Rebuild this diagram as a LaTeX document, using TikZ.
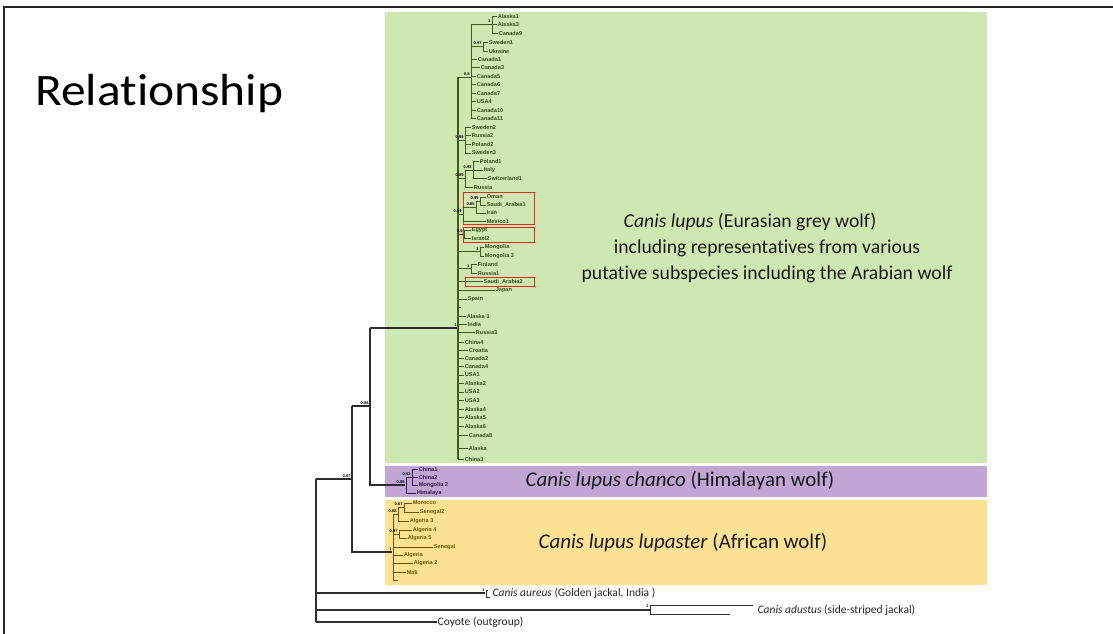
\documentclass[tikz,border=0pt]{standalone}
\usepackage{fontspec}
\setmainfont{Carlito}[Ligatures={NoCommon}]
\newfontfamily\leaffont{Liberation Sans}
\definecolor{gfill}{RGB}{207,232,178}
\definecolor{pfill}{RGB}{192,165,213}
\definecolor{yfill}{RGB}{254,226,147}
\definecolor{gline}{RGB}{62,92,30}
\definecolor{gtext}{RGB}{50,78,22}
\definecolor{pline}{RGB}{58,20,80}
\definecolor{yline}{RGB}{110,82,0}
\definecolor{redbox}{RGB}{228,40,40}
\definecolor{bbline}{RGB}{45,45,45}
\newcommand\lf[6]{\node[#1] (#2) at (#4,#5) {#6}; \draw[#1 line] (#3,#5) -- (#2.west);}
\tikzset{
  gl/.style={font=\leaffont\bfseries\fontsize{5.6}{6}\selectfont, text=gtext, anchor=west, inner sep=0.6pt},
  gl line/.style={draw=gline, line width=0.9pt},
  pl/.style={font=\leaffont\bfseries\fontsize{5.6}{6}\selectfont, text=pline, anchor=west, inner sep=0.6pt},
  pl line/.style={draw=pline, line width=0.9pt},
  yl/.style={font=\leaffont\bfseries\fontsize{5.6}{6}\selectfont, text=yline, anchor=west, inner sep=0.6pt},
  yl line/.style={draw=yline, line width=0.9pt},
  bb/.style={draw=bbline, line width=1.2pt},
  supp/.style={font=\leaffont\bfseries\fontsize{4}{4}\selectfont, anchor=south east, inner sep=0.3pt},
  bigtext/.style={font=\fontsize{19.7}{26}\selectfont, text=black!90, align=center},
  rbox/.style={draw=redbox, line width=0.8pt},
  jack/.style={font=\fontsize{11.5}{13}\selectfont, anchor=west, inner sep=0.5pt, text=black!85}
}
\begin{document}
\begin{tikzpicture}[x=1pt,y=-1pt]
\useasboundingbox (0,0) rectangle (1113,634);
\fill[white] (0,0) rectangle (1113,634);
% frame
\draw[line width=2pt, black!85] (4,634) -- (4,7) -- (1113,7);
% title
\node[font=\fontsize{45}{50}\selectfont, anchor=base west, inner sep=0pt] (title) at (35,105) {\scalebox{1.1}[1]{Relationship}};
% coloured panels
\fill[gfill] (385,12) rectangle (987,463);
\fill[pfill] (385,466) rectangle (987,497);
\fill[yfill] (385,500) rectangle (987,585);
% panel texts
\node[bigtext] (eurasian) at (767,248) {\textit{Canis lupus} (Eurasian grey wolf)\hspace*{34pt}\\including representatives from various\\putative subspecies including the Arabian wolf};
\node[bigtext, font=\fontsize{20.9}{22}\selectfont] (chanco) at (680,481) {\textit{Canis lupus chanco} (Himalayan wolf)};
\node[bigtext, font=\fontsize{20.9}{22}\selectfont] (lupaster) at (683,543) {\textit{Canis lupus lupaster} (African wolf)};
% red boxes
\draw[rbox] (463,192) rectangle (534,224);
\draw[rbox] (463,227) rectangle (534,242);
\draw[rbox] (465,277) rectangle (534,286);

% ---------- green clade ----------
\draw[gl line, line width=1.2pt] (458,77) -- (458,459);
\draw[gl line] (458,77) -- (471,77) (471,24) -- (471,118);
\node[supp] (s08) at (470,76) {0.8};
\draw[gl line] (471,24.5) -- (492,24.5) (492,16) -- (492,33);
\node[supp] (s1a) at (491,23.5) {1};
\lf{gl}{alaskaA}{492}{497}{16}{Alaska1}
\lf{gl}{alaskaB}{492}{497}{24.5}{Alaska3}
\lf{gl}{canadaIX}{492}{498}{33}{Canada9}
\draw[gl line] (471,46.5) -- (483,46.5) (483,42) -- (483,51);
\node[supp] (s097) at (482,45.5) {0.97};
\lf{gl}{swedenA}{483}{488}{42}{Sweden1}
\lf{gl}{ukraine}{483}{488}{51}{Ukraine}
\lf{gl}{canadaI}{471}{477}{59}{Canada1}
\lf{gl}{canadaIII}{471}{480}{67.5}{Canada3}
\lf{gl}{canadaV}{471}{476}{76}{Canada5}
\lf{gl}{canadaVI}{471}{476}{84.5}{Canada6}
\lf{gl}{canadaVII}{471}{476}{93}{Canada7}
\lf{gl}{usaIV}{471}{476}{101.5}{USA4}
\lf{gl}{canadaX}{471}{476}{110}{Canada10}
\lf{gl}{canadaXI}{471}{476}{118}{Canada11}
% Sweden2 clade
\draw[gl line] (458,140) -- (465,140) (465,127) -- (465,153);
\node[supp] (s099a) at (464,139) {0.99};
\lf{gl}{swedenB}{465}{471}{127}{Sweden2}
\lf{gl}{russiaB}{465}{471}{135.5}{Russia2}
\lf{gl}{polandB}{465}{471}{144}{Poland2}
\lf{gl}{swedenC}{465}{471}{153}{Sweden3}
% Poland1 clade
\draw[gl line] (473,161) -- (473,178.5) (465,170) -- (465,187) (465,170) -- (473,170) (458,178) -- (465,178);
\node[supp] (s093) at (472,169) {0.93};
\node[supp] (s089) at (464,177) {0.89};
\lf{gl}{polandA}{473}{479}{161}{Poland1}
\lf{gl}{italy}{473}{483}{170}{Italy}
\lf{gl}{switz}{473}{487}{178.5}{Switzerland1}
\lf{gl}{russia}{465}{473}{187}{Russia}
% Oman clade
\draw[gl line] (480,197) -- (480,205) (476,201) -- (476,213) (476,201) -- (480,201)
  (463,207) -- (463,221) (463,207) -- (476,207) (458,214) -- (463,214);
\node[supp] (s095) at (479,200) {0.95};
\node[supp] (s085) at (475,206) {0.85};
\node[supp] (s099b) at (462,213) {0.99};
\lf{gl}{oman}{480}{486}{197}{Oman}
\lf{gl}{saudiA}{480}{486}{205}{Saudi\_Arabia1}
\lf{gl}{iran}{476}{486}{213}{Iran}
\lf{gl}{mexico}{463}{486}{221}{Mexico1}
% Egypt / Israel
\draw[gl line] (458,234) -- (464,234) (464,230) -- (464,238.5);
\node[supp] (s09) at (463,233) {0.9};
\lf{gl}{egypt}{464}{471}{230}{Egypt}
\lf{gl}{israel}{464}{471}{238.5}{Israel2}
% Mongolia
\draw[gl line] (458,251.5) -- (480,251.5) (480,247) -- (480,256);
\node[supp] (s1b) at (479,250.5) {1};
\lf{gl}{mongolia}{480}{484}{247}{Mongolia}
\lf{gl}{mongoliaC}{480}{484}{256}{Mongolia 3}
% Finland
\draw[gl line] (458,268.5) -- (471,268.5) (471,264) -- (471,273);
\node[supp] (s1c) at (470,267.5) {1};
\lf{gl}{finland}{471}{477}{264}{Finland}
\lf{gl}{russiaA}{471}{477}{273}{Russia1}
\lf{gl}{saudiB}{458}{483}{281.5}{Saudi\_Arabia2}
\lf{gl}{japan}{458}{495}{290}{Japan}
\lf{gl}{spain}{458}{467}{299}{Spain}
\coordinate (blankA) at (461,307);
\draw[gl line] (458,307) -- (blankA);
\lf{gl}{alaskaC}{458}{466}{316}{Alaska 3}
\lf{gl}{india}{458}{467}{324}{India}
\lf{gl}{russiaC}{458}{475}{332.5}{Russia3}
\lf{gl}{chinaD}{458}{464}{342}{China4}
\lf{gl}{croatia}{458}{468}{350}{Croatia}
\lf{gl}{canadaII}{458}{464}{358}{Canada2}
\lf{gl}{canadaIV}{458}{464}{366.5}{Canada4}
\lf{gl}{usaI}{458}{464}{375}{USA1}
\lf{gl}{alaskaD}{458}{464}{383.5}{Alaska2}
\lf{gl}{usaII}{458}{464}{392}{USA2}
\lf{gl}{usaIII}{458}{464}{400.5}{USA3}
\lf{gl}{alaskaE}{458}{464}{409}{Alaska4}
\lf{gl}{alaskaF}{458}{464}{417.5}{Alaska5}
\lf{gl}{alaskaG}{458}{464}{426}{Alaska6}
\lf{gl}{canadaVIII}{458}{468}{435}{Canada8}
\lf{gl}{alaska}{458}{468}{448}{Alaska}
\lf{gl}{chinaC}{458}{464}{459}{China3}

% ---------- purple clade ----------
\draw[pl line] (412,469) -- (412,485) (406,477) -- (406,493) (406,477) -- (412,477);
\node[supp] (s053) at (411,476) {0.53};
\node[supp] (s099c) at (405,484) {0.99};
\lf{pl}{chinaA}{412}{418}{469}{China1}
\lf{pl}{chinaB}{412}{418}{477}{China2}
\lf{pl}{mongoliaB}{412}{418}{485}{Mongolia 2}
\lf{pl}{himalaya}{406}{416}{493}{Himalaya}

% ---------- yellow clade ----------
\draw[yl line] (404,503) -- (404,512) (398,507.5) -- (398,521) (398,507.5) -- (404,507.5)
  (399,530) -- (399,538) (393,514) -- (393,580) (393,514) -- (398,514) (393,534) -- (399,534);
\node[supp] (s067b) at (403,506) {0.67};
\node[supp] (s088b) at (397,513) {0.88};
\node[supp] (s097b) at (398,533) {0.97};
\node[supp] (s1y) at (392,551) {1};
\lf{yl}{morocco}{404}{412}{503}{Morocco}
\lf{yl}{senegalB}{404}{419}{512}{Senegal2}
\lf{yl}{algeriaC}{398}{409}{521}{Algeria 3}
\lf{yl}{algeriaD}{399}{412}{530}{Algeria 4}
\lf{yl}{algeriaE}{399}{407}{538}{Algeria 5}
\lf{yl}{senegal}{393}{433}{547}{Senegal}
\lf{yl}{algeria}{393}{403}{555}{Algeria}
\lf{yl}{algeriaB}{393}{413}{563}{Algeria 2}
\lf{yl}{mali}{393}{406}{572}{Mali}
\coordinate (blankB) at (398,580);
\draw[yl line] (393,580) -- (blankB);

% ---------- backbone ----------
\draw[bb] (370,328) -- (457,328);
\node[supp] (s1g) at (457,327) {1};
\draw[bb] (370,328) -- (370,485) -- (405,485);
\draw[bb] (352,406) -- (370,406);
\node[supp] (s088) at (369,405) {0.88};
\draw[bb] (352,406) -- (352,552) -- (392,552);
\draw[bb] (316,479) -- (352,479);
\node[supp] (s067) at (351,478) {0.67};
\draw[bb] (316,479) -- (316,622);
% outgroups
\node[jack] (aureus) at (492,593) {\textit{Canis aureus} (Golden jackal, India )};
\draw[bb] (316,593) -- (485,593);
\draw[bb, line width=1pt] (488,590) -- (486,590) -- (486,597) -- (490,597);
\node[supp] (s1au) at (485,592) {1};
\node[jack] (adustus) at (757,610) {\textit{Canis adustus} (side-striped jackal)};
\draw[bb] (316,610) -- (650,610);
\draw[bb, line width=1pt] (753,605) -- (650,605) -- (650,614) -- (730,614);
\node[supp] (s1ad) at (649,608) {1};
\node[jack] (coyote) at (437,622) {Coyote (outgroup)};
\draw[bb] (316,622) -- (coyote.west);
\end{tikzpicture}
\end{document}
